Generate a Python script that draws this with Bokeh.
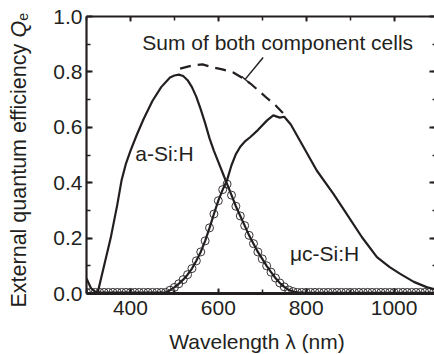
import math
from bokeh.plotting import figure
from bokeh.models import (Label, Arrow, TeeHead, LinearAxis, FixedTicker, Range1d,
                          PrintfTickFormatter)
from bokeh.embed import file_html
from bokeh.resources import INLINE

# ---------------- data ----------------
asi_wl = [300, 325, 340, 355, 370, 380, 390, 400, 415, 430, 450, 470, 490, 500, 510,
          520, 530, 540, 550, 560, 570, 580, 590, 600, 610,
          620, 630, 640, 650, 660, 670, 680, 690, 700, 710, 720, 730, 740, 750, 760, 770, 780,
          800, 1100]
asi_q = [0.0, 0.0, 0.10, 0.20, 0.32, 0.41, 0.47, 0.515, 0.575, 0.63, 0.695, 0.745, 0.78, 0.787, 0.79,
         0.785, 0.77, 0.745, 0.71, 0.665, 0.615, 0.56, 0.515, 0.475, 0.435,
         0.395, 0.355, 0.315, 0.28, 0.245, 0.21, 0.18, 0.15, 0.125, 0.10, 0.077, 0.056, 0.038, 0.024, 0.013, 0.007, 0.004,
         0.002, 0.002]

muc_wl = [300, 310, 320, 330, 480, 490, 500, 510, 520, 530, 540, 550, 560, 570, 580, 590, 600, 610,
          620, 630, 640, 650, 660, 673, 690, 711, 725, 740, 750, 765, 790, 824, 862, 895, 927, 961,
          990, 1014, 1045, 1074, 1100]
muc_q = [0.054, 0.02, 0.006, 0.003, 0.004, 0.012, 0.022, 0.035, 0.05, 0.068, 0.09, 0.118, 0.15, 0.19, 0.237, 0.287, 0.335, 0.375,
         0.41, 0.463, 0.503, 0.53, 0.548, 0.565, 0.59, 0.625, 0.643, 0.635, 0.638, 0.61, 0.54, 0.444, 0.36, 0.28, 0.203, 0.131,
         0.095, 0.071, 0.042, 0.023, 0.012]

sum_wl = [513, 541, 564, 589, 609, 634, 657, 673, 695, 711, 730, 748]
sum_q = [0.812, 0.823, 0.827, 0.816, 0.809, 0.798, 0.776, 0.758, 0.728, 0.705, 0.68, 0.65]

circ_wl = list(range(300, 1101, 10))
circ_q = ([0.004] * 19 +
          [0.012, 0.022, 0.035, 0.05, 0.068, 0.09, 0.118, 0.15, 0.19, 0.237, 0.287, 0.335, 0.375,
           0.395, 0.355, 0.315, 0.28, 0.245, 0.21, 0.18, 0.15, 0.125, 0.10, 0.077, 0.056, 0.038, 0.024,
           0.013, 0.007] +
          [0.004] * 33)

x_major = [400, 600, 800, 1000]
x_minor = [300, 400, 500, 600, 700, 800, 900, 1000, 1100]
y_major = [0.0, 0.2, 0.4, 0.6, 0.8, 1.0]
y_minor = [0.1, 0.2, 0.3, 0.4, 0.5, 0.6, 0.7, 0.8, 0.9]

INK = "#231f20"
FONT = "Liberation Sans"
FS = "21px"

p = figure(width=434, height=354, x_range=Range1d(300, 1092), y_range=Range1d(0, 1.0),
           output_backend="svg", toolbar_location=None,
           min_border_left=86, min_border_right=0, min_border_top=16, min_border_bottom=61)
p.grid.visible = False
p.outline_line_color = None
p.background_fill_color = "white"
p.border_fill_color = "white"

xt = FixedTicker(ticks=x_major, minor_ticks=x_minor)
yt = FixedTicker(ticks=y_major, minor_ticks=y_minor)


def style(ax, ticker, labels=True, line=True, lw=2.2, mj=5, mn=3):
    ax.ticker = ticker
    ax.axis_line_color = INK if line else None
    ax.axis_line_width = lw
    ax.major_tick_in = mj
    ax.major_tick_out = 0
    ax.minor_tick_in = mn
    ax.minor_tick_out = 0
    ax.major_tick_line_color = INK
    ax.minor_tick_line_color = INK
    ax.major_tick_line_width = 1.8
    ax.minor_tick_line_width = 1.5
    ax.axis_label = None
    ax.major_label_text_font = FONT
    ax.major_label_text_font_size = FS
    if labels:
        ax.major_label_text_color = INK
        ax.major_label_standoff = 4
    else:
        ax.major_label_text_color = None
        ax.major_label_standoff = 0


xa = p.xaxis[0]
style(xa, xt, lw=2.8, mj=5, mn=4)
xa.major_label_standoff = 7

ya = p.yaxis[0]
style(ya, yt, lw=2.2, mj=6, mn=4)
ya.formatter = PrintfTickFormatter(format="%.1f")

top = LinearAxis()
style(top, xt, labels=False, lw=2.0, mj=5, mn=4)
p.add_layout(top, "above")
right = LinearAxis()
style(right, yt, labels=False, line=False, mj=5, mn=2)
p.add_layout(right, "right")

# curves
p.line(asi_wl, asi_q, line_color=INK, line_width=2.2)
p.line(muc_wl, muc_q, line_color=INK, line_width=2.2)
p.scatter(circ_wl, circ_q, marker="circle", size=8, fill_color=None, line_color=INK, line_width=0.9)
p.line(sum_wl, sum_q, line_color=INK, line_width=2.2, line_dash="11 7")

# annotations
p.add_layout(Arrow(end=TeeHead(size=9, line_width=1.5, line_color=INK),
                   x_start=702, y_start=0.852, x_end=661, y_end=0.773,
                   line_width=1.5, line_color=INK))


def lab(x, y, t, place="center", **kw):
    d = dict(text_font=FONT, text_font_size=FS, text_color=INK)
    d.update(kw)
    p.add_layout(Label(x=x, y=y, text=t, **d), place)


lab(427, 0.906, "Sum of both component cells", text_align="left", text_baseline="middle")
lab(411, 0.505, "a-Si:H", text_align="left", text_baseline="middle")
lab(763, 0.144, "\u03bcc-Si:H", text_align="left", text_baseline="middle")

# x axis title (drawn in the bottom side panel)
lab(688, -0.1733, "Wavelength \u03bb (nm)", "below", text_align="center", text_baseline="middle")

# y axis title: External quantum efficiency Q_e (pieces, drawn in the side panels)
ang = math.pi / 2
lab(145.6, -0.0505, "External quantum efficiency", "left", text_align="left",
    text_baseline="alphabetic", angle=ang, text_font_size="21.5px")
lab(145.6, 0.924, "Q", "left", text_align="left", text_baseline="alphabetic", angle=ang,
    text_font_style="italic", text_font_size="21.5px")
lab(154.5, 0.985, "e", "above", text_align="left", text_baseline="alphabetic", angle=ang,
    text_font_size="14px")

open("out.html", "w").write(file_html(p, INLINE))
